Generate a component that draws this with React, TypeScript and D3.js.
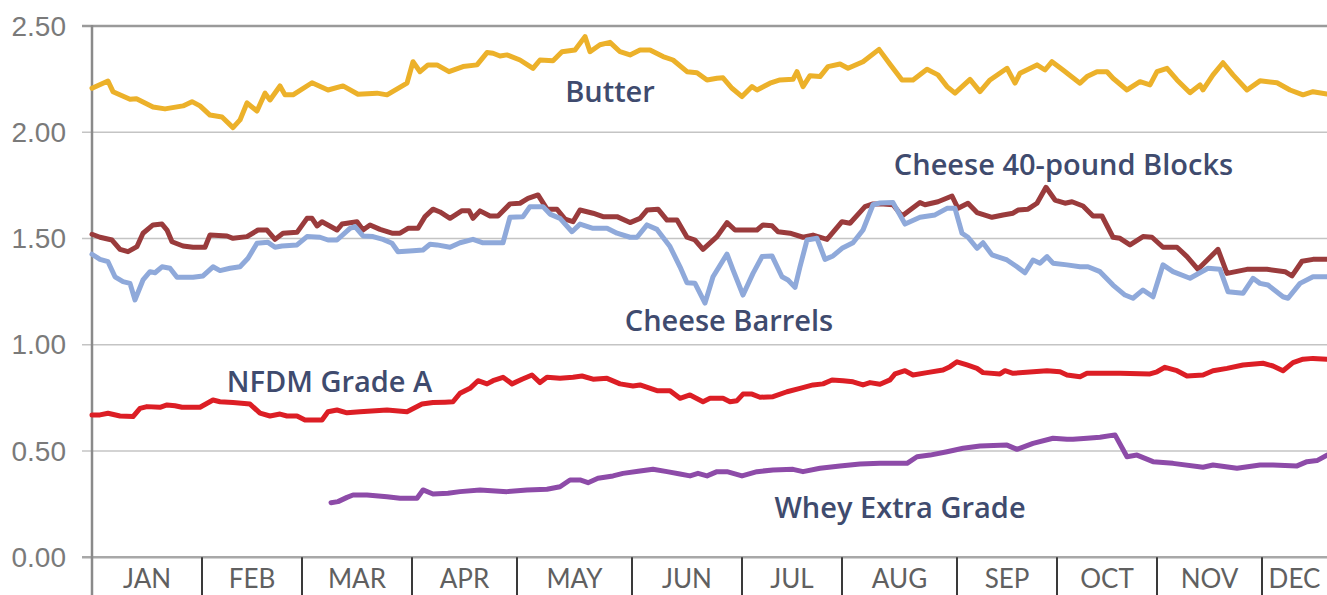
import React from "react";
import * as d3 from "d3";

type Pt = [number, number];

const months = ["JAN", "FEB", "MAR", "APR", "MAY", "JUN", "JUL", "AUG", "SEP", "OCT", "NOV", "DEC"];
const monthStartDays = [0, 22, 42, 64, 85, 108, 130, 150, 173, 193, 213, 234];
const lastDay = 247;
const yTicks = [0, 0.5, 1, 1.5, 2, 2.5];

const butter: Pt[] = [
  [0, 2.207], [3.2, 2.241], [4.2, 2.191], [7.6, 2.155], [8.9, 2.158], [12.2, 2.119], [14.6, 2.11],
  [18.2, 2.124], [20, 2.144], [21.6, 2.124], [23.6, 2.081], [26, 2.072], [28.2, 2.022], [29.6, 2.058],
  [31, 2.138], [33, 2.1], [34.6, 2.184], [35.6, 2.152], [37.6, 2.218], [38.6, 2.176], [40.2, 2.176],
  [44, 2.233], [47.2, 2.199], [50.2, 2.218], [53.2, 2.179], [57, 2.184], [59, 2.176], [63, 2.231],
  [64.2, 2.332], [65.6, 2.285], [67.2, 2.317], [69, 2.317], [71.4, 2.285], [74.2, 2.309], [77, 2.317],
  [79, 2.375], [80.2, 2.372], [81.6, 2.359], [83, 2.364], [85.6, 2.34], [88.2, 2.301], [89.6, 2.34],
  [92.2, 2.336], [94, 2.379], [96.6, 2.387], [98.6, 2.45], [99.6, 2.379], [101.6, 2.412], [103.6, 2.423],
  [105.6, 2.379], [107.6, 2.364], [109.6, 2.387], [111.6, 2.387], [114.2, 2.356], [116.2, 2.34],
  [119, 2.285], [121, 2.28], [123, 2.246], [125, 2.254], [126.2, 2.256], [128, 2.207], [130, 2.168],
  [132, 2.215], [133, 2.199], [135.6, 2.231], [137.6, 2.246], [140.2, 2.249], [141, 2.285], [142.2, 2.215],
  [143.6, 2.266], [145.6, 2.262], [147.2, 2.309], [149.6, 2.321], [151.2, 2.301], [154.2, 2.332],
  [157.4, 2.39], [159.6, 2.32], [162, 2.246], [164.2, 2.246], [167, 2.296], [169.2, 2.27], [171, 2.215],
  [172.6, 2.184], [175.6, 2.249], [177.6, 2.191], [179.6, 2.246], [183, 2.301], [184.6, 2.231],
  [185.6, 2.278], [189, 2.317], [190.6, 2.293], [192, 2.332], [194.2, 2.293], [197.6, 2.231], [199, 2.262],
  [201, 2.285], [203, 2.285], [204.2, 2.254], [207, 2.199], [209.6, 2.238], [211.6, 2.223], [213, 2.285],
  [215, 2.301], [217, 2.246], [219.6, 2.186], [221.6, 2.223], [222.2, 2.199], [224.2, 2.27], [226.2, 2.327],
  [228.2, 2.27], [231, 2.199], [233.6, 2.242], [237, 2.233], [239.6, 2.199], [242.2, 2.176], [244.2, 2.191],
  [247, 2.18],
];

const cheeseBlocks: Pt[] = [
  [0, 1.52], [1.6, 1.506], [4, 1.493], [5.6, 1.449], [7.2, 1.438], [9, 1.462], [10.2, 1.525], [12.2, 1.564],
  [14, 1.568], [15, 1.54], [16, 1.485], [18.2, 1.465], [20.2, 1.459], [22.6, 1.459], [23.6, 1.517],
  [27, 1.512], [28.2, 1.501], [31, 1.509], [33.2, 1.54], [35, 1.54], [36.6, 1.496], [38.2, 1.525],
  [41, 1.529], [43, 1.595], [44, 1.595], [45, 1.559], [46, 1.579], [49, 1.54], [50, 1.568], [53, 1.579],
  [54.2, 1.54], [55.6, 1.564], [57.6, 1.543], [60, 1.525], [61.6, 1.525], [63.2, 1.548], [65.2, 1.548],
  [66.6, 1.603], [68.2, 1.638], [69.6, 1.625], [71.6, 1.595], [74, 1.631], [75.4, 1.631], [76.2, 1.595],
  [77.6, 1.63], [79.6, 1.606], [81.2, 1.606], [83.6, 1.663], [85.6, 1.666], [87.2, 1.689], [89.2, 1.705],
  [91, 1.638], [93, 1.638], [94.6, 1.591], [96.2, 1.579], [97.6, 1.634], [100.2, 1.619], [102.2, 1.603],
  [105, 1.603], [107.6, 1.575], [109.6, 1.595], [111, 1.634], [113.2, 1.638], [115, 1.587], [117, 1.587],
  [119, 1.506], [120.6, 1.493], [122.2, 1.449], [125, 1.509], [127, 1.575], [128.6, 1.54], [133, 1.54],
  [134.2, 1.564], [136, 1.56], [137.2, 1.532], [139.6, 1.525], [142.2, 1.506], [144.2, 1.516], [147, 1.496],
  [150, 1.579], [151.6, 1.572], [154.6, 1.65], [156.2, 1.663], [157.6, 1.663], [160.2, 1.659], [162, 1.606],
  [165.6, 1.669], [166.6, 1.659], [169.2, 1.673], [172, 1.7], [173.2, 1.642], [175.2, 1.666], [177, 1.622],
  [180, 1.6], [182.2, 1.611], [184.2, 1.619], [185.2, 1.634], [187.2, 1.638], [189, 1.666], [190.8, 1.741],
  [192.6, 1.681], [194.6, 1.666], [196, 1.673], [198.2, 1.653], [200.2, 1.606], [202, 1.606], [204.2, 1.506],
  [205.6, 1.501], [207.6, 1.47], [210.2, 1.509], [212, 1.506], [214.2, 1.459], [217, 1.459], [219, 1.415],
  [221.2, 1.355], [225.2, 1.449], [227, 1.336], [231, 1.355], [235, 1.355], [238.6, 1.344], [240, 1.324],
  [242, 1.393], [244.2, 1.402], [247, 1.402],
];

const cheeseBarrels: Pt[] = [
  [0, 1.426], [1.6, 1.402], [3.2, 1.391], [4.6, 1.32], [6.2, 1.297], [7.6, 1.289], [8.6, 1.211], [10.2, 1.305],
  [11.6, 1.344], [12.6, 1.339], [14, 1.367], [15.6, 1.36], [17, 1.318], [20.2, 1.318], [22.2, 1.324],
  [24.2, 1.367], [25.6, 1.349], [27.6, 1.36], [29.6, 1.367], [31.2, 1.407], [33, 1.478], [35.2, 1.482],
  [36.6, 1.459], [38, 1.465], [41, 1.47], [43, 1.509], [45.6, 1.506], [47.2, 1.493], [49, 1.493],
  [51.6, 1.548], [52.6, 1.556], [54.2, 1.512], [56.2, 1.509], [58.2, 1.496], [60, 1.478], [61.2, 1.438],
  [64.2, 1.443], [66.2, 1.446], [67.6, 1.473], [69, 1.47], [71.6, 1.459], [73.6, 1.48], [76.2, 1.496],
  [78.2, 1.48], [82.2, 1.48], [83.6, 1.6], [86.2, 1.603], [87.6, 1.65], [90.2, 1.65], [91.6, 1.615],
  [93.6, 1.595], [96, 1.532], [97.6, 1.568], [100.2, 1.548], [103, 1.548], [105, 1.525], [107.6, 1.506],
  [109, 1.506], [111, 1.564], [113, 1.543], [115.6, 1.462], [117.6, 1.367], [119, 1.292], [120.6, 1.289],
  [122.6, 1.196], [124.2, 1.32], [127, 1.427], [128.2, 1.352], [130.2, 1.234], [132.2, 1.336], [134, 1.415],
  [136, 1.418], [138, 1.32], [139.2, 1.305], [140.6, 1.27], [141.6, 1.367], [143, 1.493], [145, 1.501],
  [146.6, 1.402], [148.2, 1.418], [150, 1.454], [152.2, 1.48], [154.2, 1.54], [156.2, 1.659], [157.6, 1.667],
  [160.2, 1.669], [162.6, 1.568], [165.6, 1.6], [168.6, 1.611], [171, 1.642], [172.6, 1.642], [174, 1.525],
  [175.2, 1.506], [177, 1.454], [178.2, 1.48], [180, 1.423], [183, 1.399], [185, 1.367], [186.6, 1.339],
  [188.2, 1.399], [189.6, 1.384], [191, 1.415], [192.2, 1.384], [195, 1.376], [197.6, 1.367], [199.2, 1.367],
  [201.6, 1.344], [204.2, 1.281], [206.6, 1.234], [208.2, 1.219], [210.2, 1.258], [212.2, 1.226],
  [214.2, 1.376], [216.2, 1.344], [219.6, 1.313], [223.2, 1.36], [225.6, 1.355], [227.2, 1.25],
  [230.2, 1.242], [232.2, 1.313], [233.6, 1.289], [235.2, 1.281], [238.2, 1.226], [239.2, 1.219],
  [241.6, 1.289], [244.2, 1.32], [247, 1.32],
];

const nfdmGradeA: Pt[] = [
  [0, 0.67], [1.6, 0.67], [3.2, 0.678], [5.6, 0.665], [8.2, 0.662], [9.6, 0.701], [11, 0.709], [13.6, 0.706],
  [15, 0.717], [16.6, 0.713], [18, 0.706], [21.6, 0.706], [24.2, 0.74], [25.6, 0.732], [28.2, 0.728],
  [31.6, 0.721], [33.6, 0.678], [35.6, 0.665], [37.6, 0.674], [39, 0.665], [41, 0.665], [42.6, 0.646],
  [46, 0.646], [47.2, 0.685], [49, 0.693], [51, 0.68], [53.6, 0.685], [59, 0.693], [63, 0.685], [66, 0.721],
  [68.2, 0.728], [70.6, 0.73], [72.2, 0.732], [73.6, 0.772], [75.6, 0.795], [77.2, 0.831], [79, 0.816],
  [80.2, 0.831], [82.2, 0.847], [84, 0.816], [86, 0.838], [88, 0.858], [89.6, 0.822], [91, 0.847],
  [93.6, 0.842], [96.2, 0.847], [98, 0.853], [100.2, 0.838], [103, 0.842], [105.6, 0.816], [108.2, 0.806],
  [109.6, 0.811], [113, 0.784], [115.6, 0.784], [117.6, 0.748], [119.6, 0.764], [122.2, 0.732],
  [123.6, 0.748], [126.2, 0.748], [127.6, 0.732], [129, 0.737], [130.2, 0.768], [132, 0.768], [133.6, 0.753],
  [136.2, 0.756], [139, 0.779], [141.6, 0.795], [144.2, 0.811], [146.2, 0.816], [148, 0.834], [150.2, 0.831],
  [152.2, 0.826], [154.2, 0.811], [155.6, 0.822], [157.6, 0.814], [159.6, 0.835], [160.6, 0.863],
  [162.6, 0.878], [164.2, 0.858], [167, 0.869], [170.2, 0.881], [171.6, 0.897], [173, 0.92], [175, 0.905],
  [177, 0.889], [178.2, 0.869], [181.6, 0.863], [182.6, 0.878], [184.2, 0.866], [191, 0.878], [193.6, 0.873],
  [195, 0.858], [197.6, 0.85], [199, 0.866], [203, 0.866], [205.6, 0.866], [211.6, 0.863], [213, 0.873],
  [214.6, 0.894], [217, 0.878], [219, 0.853], [222.2, 0.858], [224.2, 0.878], [227, 0.889], [230.2, 0.905],
  [234.2, 0.913], [236.2, 0.9], [238.2, 0.878], [240.2, 0.916], [242.2, 0.932], [244.2, 0.936], [247, 0.932],
];

const wheyExtraGrade: Pt[] = [
  [47.8, 0.257], [49.2, 0.262], [51, 0.282], [52.2, 0.293], [55, 0.293], [59, 0.285], [61.6, 0.278],
  [65, 0.278], [66.2, 0.317], [68.2, 0.298], [71.2, 0.301], [73.6, 0.309], [77.6, 0.317], [83, 0.309],
  [87, 0.317], [91, 0.32], [93.6, 0.332], [95.6, 0.364], [97.6, 0.364], [99.2, 0.351], [101.2, 0.372],
  [104.2, 0.383], [106.2, 0.395], [109.6, 0.406], [112.2, 0.414], [115, 0.403], [117.6, 0.392],
  [119.6, 0.383], [121.2, 0.395], [123, 0.383], [125, 0.403], [127, 0.403], [130, 0.383], [133, 0.403],
  [136.2, 0.411], [140.2, 0.414], [142.2, 0.403], [145.6, 0.419], [149.6, 0.43], [153.6, 0.439],
  [157.6, 0.442], [163, 0.442], [165, 0.473], [167.6, 0.481], [171, 0.497], [174.2, 0.513], [177.6, 0.524],
  [183, 0.528], [185, 0.508], [188.2, 0.536], [192.2, 0.56], [195, 0.555], [196.2, 0.555], [199, 0.56],
  [201.6, 0.565], [204.6, 0.576], [207, 0.473], [209, 0.481], [212.2, 0.45], [216.2, 0.442], [222.2, 0.424],
  [224.2, 0.434], [229, 0.419], [233.6, 0.434], [236.2, 0.434], [241, 0.43], [243, 0.45], [245, 0.455],
  [247, 0.481],
];

const seriesNames = ["Butter", "Cheese 40-pound Blocks", "Cheese Barrels", "NFDM Grade A", "Whey Extra Grade"];
// label anchors (day, value) — text centered on the day, baseline at value
const labelDays = [103.6, 194.3, 127.4, 47.5, 161.6];
const labelValues = [2.144, 1.799, 1.067, 0.778, 0.185];

const W = 1327;
const H = 595;
const LEFT = 92;
const TOP = 26;
const BOTTOM = 557.3;

const colors: Record<string, string> = {
  "Butter": "#ECB12A",
  "Cheese 40-pound Blocks": "#9A3B3C",
  "Cheese Barrels": "#8FA9DA",
  "NFDM Grade A": "#DC1E25",
  "Whey Extra Grade": "#8D4BA8",
};

export default function App() {
  const x = d3.scaleLinear().domain([0, lastDay]).range([LEFT, W]);
  const y = d3.scaleLinear().domain([0, 2.5]).range([BOTTOM, TOP]);
  const line = d3
    .line<Pt>()
    .x((d) => x(d[0]))
    .y((d) => y(d[1]));

  const drawOrder: [string, Pt[]][] = [
    ["Whey Extra Grade", wheyExtraGrade],
    ["NFDM Grade A", nfdmGradeA],
    ["Cheese 40-pound Blocks", cheeseBlocks],
    ["Cheese Barrels", cheeseBarrels],
    ["Butter", butter],
  ];

  const monthEnds = [...monthStartDays.slice(1), lastDay];

  return (
    <div style={{ position: "fixed", left: 0, top: 0, width: W, height: H, background: "#fff" }}>
      <svg width={W} height={H} style={{ display: "block" }}>
        <rect x={0} y={0} width={W} height={H} fill="#fff" />
        {/* gridlines */}
        {yTicks.map((t) => (
          <g key={"g" + t}>
            <line
              x1={LEFT - 10}
              x2={W}
              y1={y(t)}
              y2={y(t)}
              stroke={t === 2.5 ? "#9a9a9a" : t === 0 ? "#a8a8a8" : "#c4c4c4"}
              strokeWidth={t === 2.5 || t === 0 ? 2.5 : 1.6}
            />
            <text
              x={66}
              y={y(t)}
              textAnchor="end"
              dominantBaseline="central"
              fontFamily="'Liberation Sans', Arial, sans-serif"
              fontSize={28}
              fill="#7a7a7a"
            >
              {d3.format(".2f")(t)}
            </text>
          </g>
        ))}
        {/* left axis */}
        <line x1={LEFT} x2={LEFT} y1={TOP - 1} y2={H} stroke="#8a8a8a" strokeWidth={2.5} />
        {/* month separators */}
        {monthStartDays.slice(1).map((d) => (
          <line key={"m" + d} x1={x(d)} x2={x(d)} y1={BOTTOM} y2={H} stroke="#3a3a3a" strokeWidth={2} />
        ))}
        {months.map((m, i) => (
          <text
            key={m}
            x={(x(monthStartDays[i]) + x(monthEnds[i])) / 2}
            y={588}
            textAnchor="middle"
            fontFamily="Lato, 'Open Sans', sans-serif"
            fontSize={26}
            fill="#606060"
          >
            {m}
          </text>
        ))}
        {/* series */}
        {drawOrder.map(([name, data]) => (
          <path
            key={name}
            d={line(data) || ""}
            fill="none"
            stroke={colors[name]}
            strokeWidth={5}
            strokeLinejoin="round"
            strokeLinecap="round"
          />
        ))}
        {/* series labels */}
        {seriesNames.map((n, i) => (
          <text
            key={"l" + n}
            x={x(labelDays[i])}
            y={y(labelValues[i])}
            textAnchor="middle"
            fontFamily="'Comic Sans MS', 'Open Sans', sans-serif"
            fontWeight={600}
            fontSize={29}
            fill="#3F4B6E"
          >
            {n}
          </text>
        ))}
      </svg>
    </div>
  );
}
